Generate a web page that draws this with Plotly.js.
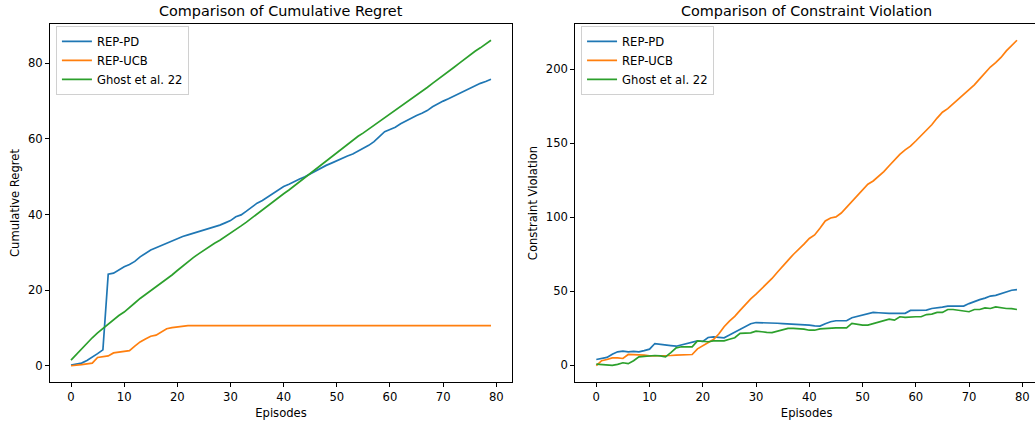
<!DOCTYPE html>
<html>
<head>
<meta charset="utf-8">
<script src="https://cdn.plot.ly/plotly-3.0.1.min.js"></script>
<style>
html, body { margin: 0; padding: 0; overflow: hidden; background: #fff; }
#chart { width: 1040px; height: 423px; }
</style>
</head>
<body>
<div id="chart"></div>
<script>
// Episodes 0..79
const episodes = Array.from({length: 80}, (_, i) => i);

// Left: cumulative regret
const regretRepPD = [0.2,0.4,0.7,1.4,2.2,3.2,4.2,24.2,24.5,25.4,26.2,26.8,27.6,28.8,29.8,30.6,31.2,31.8,32.4,33.2,
  33.8,34.2,34.6,35.0,35.4,35.8,36.2,36.6,37.2,37.8,38.4,39.4,39.9,40.9,42.0,43.0,43.7,44.6,45.6,46.6,
  47.4,48.0,48.8,49.4,50.0,50.8,51.6,52.4,53.0,53.6,54.3,54.9,55.5,56.0,56.7,57.5,58.3,59.3,60.5,61.9,
  62.5,63.1,64.0,64.8,65.5,66.2,66.8,67.5,68.5,69.3,70.0,70.6,71.3,71.9,72.6,73.4,74.1,74.7,75.2,75.8];
const regretRepUCB = [0,0.1,0.3,0.5,0.7,2.2,2.4,2.6,3.4,3.6,3.8,4.0,5.2,6.3,7.1,7.8,8.1,8.9,9.8,10.1,
  10.3,10.5,10.6,10.6,10.6,10.6,10.6,10.6,10.6,10.6,10.6,10.6,10.6,10.6,10.6,10.6,10.6,10.6,10.6,10.6,
  10.6,10.6,10.6,10.6,10.6,10.6,10.6,10.6,10.6,10.6,10.6,10.6,10.6,10.6,10.6,10.6,10.6,10.6,10.6,10.6,
  10.6,10.6,10.6,10.6,10.6,10.6,10.6,10.6,10.6,10.6,10.6,10.6,10.6,10.6,10.6,10.6,10.6,10.6,10.6,10.6];
const regretGhost = [1.5,3.0,4.5,6.0,7.4,8.7,9.9,11.0,12.2,13.3,14.2,15.5,16.6,17.8,18.8,19.8,20.9,22.0,23.0,24.0,
  25.2,26.4,27.5,28.6,29.6,30.6,31.5,32.4,33.2,34.1,35.0,36.0,37.0,38.0,39.1,40.1,41.1,42.2,43.4,44.6,
  45.5,46.5,47.6,48.6,49.7,50.9,52.0,53.2,54.3,55.4,56.5,57.5,58.6,59.7,60.7,61.6,62.6,63.5,64.4,65.4,
  66.4,67.4,68.5,69.5,70.5,71.6,72.6,73.6,74.7,75.7,76.8,77.9,78.9,80.0,81.1,82.2,83.2,84.1,85.1,86.1];

// Right: constraint violation
const violRepPD = [3.8,4.6,5.2,7.4,9.0,9.5,9.0,9.3,9.0,9.8,10.8,14.6,14.3,13.8,13.2,12.8,13.8,14.6,15.6,16.4,
  16.0,18.7,19.1,19.0,18.5,20.3,22.2,24.0,25.7,28.0,28.8,28.8,28.5,28.6,28.3,28.1,27.9,27.8,27.2,27.1,
  27.0,26.5,26.4,28.0,29.3,30.0,30.0,30.0,32.0,33.0,34.0,35.0,35.6,35.4,35.0,35.0,35.0,35.0,35.0,37.0,
  37.2,37.2,37.2,38.3,38.5,39.2,39.9,39.9,39.9,39.9,41.6,43.2,44.3,45.3,46.7,47.2,48.2,49.7,50.6,51.1];
const violRepUCB = [-0.4,3.0,3.8,4.9,4.9,4.5,7.2,7.2,7.2,6.8,6.3,6.3,6.2,6.1,6.5,6.8,6.8,6.8,7.2,11.0,
  13.0,15.2,17.3,21.0,26.0,29.8,33.0,37.0,41.0,44.8,48.0,51.5,55.2,58.6,62.8,66.5,70.8,74.8,78.0,81.8,
  85.6,88.0,92.5,97.5,99.5,100.2,102.8,106.8,110.8,114.8,118.5,122.3,124.5,127.5,130.8,134.8,139.0,142.5,145.5,148.0,
  151.5,155.0,158.5,162.5,167.0,171.0,173.4,176.5,180.2,183.0,185.8,189.5,193.5,197.5,201.5,204.5,208.0,212.4,216.0,219.6];
const violGhost = [0.7,0.3,0,-0.2,0.5,1.6,1.0,3.0,5.6,5.9,6.3,6.5,6.3,5.6,8.5,11.7,12.4,12.4,12.4,16.4,
  16.0,15.8,16.4,16.4,16.4,17.5,18.5,21.5,21.8,21.8,23.0,22.4,22.2,22.0,23.0,23.8,24.8,24.8,24.8,24.3,
  23.6,23.6,24.5,24.8,25.2,25.2,25.2,25.2,28.2,27.6,27.0,27.0,28.0,29.0,30.0,31.1,30.4,32.7,32.3,32.7,
  32.7,32.7,34.2,34.5,35.6,35.6,37.6,37.6,37.2,36.6,36.1,37.6,37.6,38.7,38.3,39.4,38.8,38.3,38.2,37.6];

const seriesNames = ['REP-PD', 'REP-UCB', 'Ghost et al. 22'];
const seriesColors = ['#1f77b4', '#ff7f0e', '#2ca02c'];

const FONT = 'DejaVu Sans, Liberation Sans, sans-serif';
const FS = 11.6;
const leftData = [regretRepPD, regretRepUCB, regretGhost];
const rightData = [violRepPD, violRepUCB, violGhost];

const traces = [];
leftData.forEach((ys, i) => traces.push({
  x: episodes, y: ys, type: 'scatter', mode: 'lines', name: seriesNames[i],
  line: {color: seriesColors[i], width: 1.7}, xaxis: 'x', yaxis: 'y', legend: 'legend'
}));
rightData.forEach((ys, i) => traces.push({
  x: episodes, y: ys, type: 'scatter', mode: 'lines', name: seriesNames[i],
  line: {color: seriesColors[i], width: 1.7}, xaxis: 'x2', yaxis: 'y2', legend: 'legend2'
}));

const axisCommon = {
  showgrid: false, zeroline: false, showline: true, mirror: true,
  linecolor: '#000', linewidth: 1, ticks: 'outside', ticklen: 4, tickwidth: 1, tickcolor: '#000',
  tickfont: {family: FONT, size: FS, color: '#000'}
};
const xTicks = [0, 10, 20, 30, 40, 50, 60, 70, 80];

const legendCommon = {
  font: {family: FONT, size: FS, color: '#000'},
  bgcolor: 'rgba(255,255,255,0.8)', bordercolor: '#d0d0d0', borderwidth: 1,
  xanchor: 'left', yanchor: 'top', tracegroupgap: 0, itemwidth: 30
};

const layout = {
  width: 1040, height: 423,
  margin: {l: 50, r: 2, t: 24, b: 41},
  paper_bgcolor: '#fff', plot_bgcolor: '#fff',
  font: {family: FONT, color: '#000'},
  xaxis: Object.assign({}, axisCommon, {domain: [0, 0.4676], range: [-3.95, 82.95], tickvals: xTicks,
    title: {text: 'Episodes', font: {family: FONT, size: FS, color: '#000'}, standoff: 5}, anchor: 'y'}),
  yaxis: Object.assign({}, axisCommon, {range: [-4.3, 90.4], tickvals: [0, 20, 40, 60, 80],
    title: {text: 'Cumulative Regret', font: {family: FONT, size: FS, color: '#000'}, standoff: 5}, anchor: 'x'}),
  xaxis2: Object.assign({}, axisCommon, {domain: [0.5317, 1], range: [-3.94, 82.95], tickvals: xTicks,
    title: {text: 'Episodes', font: {family: FONT, size: FS, color: '#000'}, standoff: 5}, anchor: 'y2'}),
  yaxis2: Object.assign({}, axisCommon, {range: [-11.4, 230.6], tickvals: [0, 50, 100, 150, 200],
    title: {text: 'Constraint Violation', font: {family: FONT, size: FS, color: '#000'}, standoff: 5}, anchor: 'x2'}),
  legend: Object.assign({}, legendCommon, {x: 0.006, y: 0.995}),
  legend2: Object.assign({}, legendCommon, {x: 0.5375, y: 0.995}),
  annotations: [
    {text: 'Comparison of Cumulative Regret', xref: 'paper', yref: 'paper', x: 0.2338, y: 1, yshift: 3,
      xanchor: 'center', yanchor: 'bottom', showarrow: false, font: {family: FONT, size: 14.4, color: '#000'}},
    {text: 'Comparison of Constraint Violation', xref: 'paper', yref: 'paper', x: 0.7658, y: 1, yshift: 3,
      xanchor: 'center', yanchor: 'bottom', showarrow: false, font: {family: FONT, size: 14.4, color: '#000'}}
  ]
};

Plotly.newPlot('chart', traces, layout, {displayModeBar: false, staticPlot: true});
</script>
</body>
</html>
